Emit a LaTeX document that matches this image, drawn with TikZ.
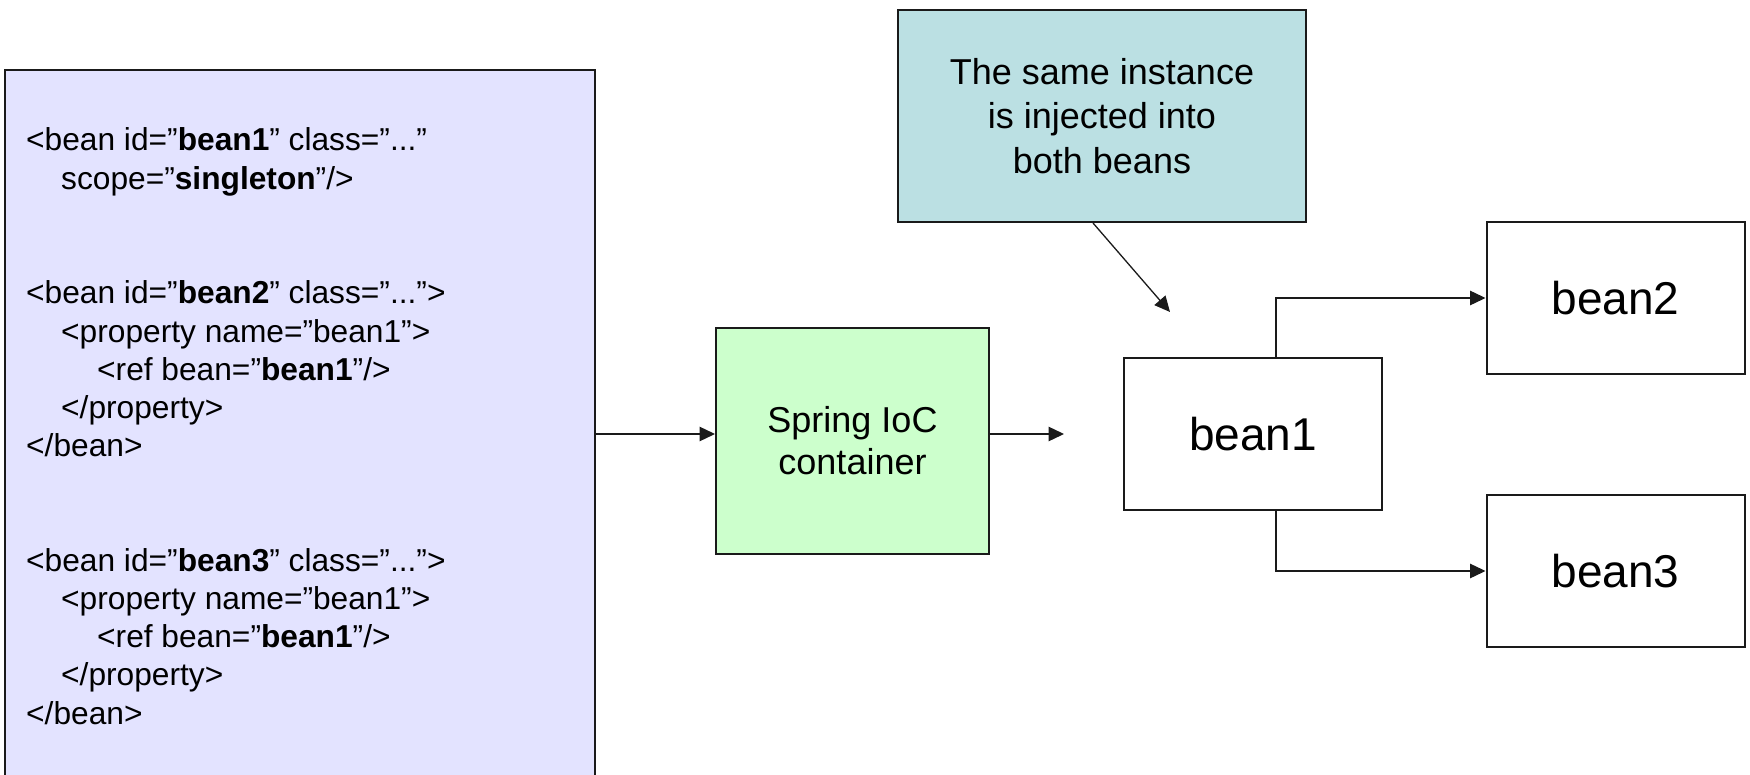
\documentclass[tikz,border=0pt]{standalone}
\usepackage{fontspec}
\setmainfont{Liberation Sans}
\usepackage{xcolor}
\usepackage{tikz}
\usetikzlibrary{arrows.meta}
\definecolor{xmlfill}{HTML}{E3E3FF}
\definecolor{iocfill}{HTML}{CCFFCC}
\definecolor{notefill}{HTML}{BBE0E3}
\definecolor{edge}{HTML}{1A1A1A}
\tikzset{
  box/.style={draw=edge, line width=2pt, inner sep=0pt, align=center},
  xmlbox/.style={box, fill=xmlfill, minimum width=590pt, minimum height=730pt},
  iocbox/.style={box, fill=iocfill, minimum width=273pt, minimum height=226pt,
    font=\fontsize{36}{42}\selectfont},
  notebox/.style={box, fill=notefill, minimum width=408pt, minimum height=212pt,
    font=\fontsize{36}{44.5}\selectfont},
  beanbox/.style={box, fill=white, minimum width=258pt, minimum height=152pt,
    font=\fontsize{46}{52}\selectfont},
  code/.style={anchor=base west, inner sep=0pt, font=\fontsize{31.7}{38.2}\selectfont},
  flow/.style={-{Triangle[length=15.5pt,width=14.5pt]}, line width=1.3pt, draw=edge}
}

\begin{document}
\begin{tikzpicture}[x=1pt, y=-1pt]
  \useasboundingbox (0,0) rectangle (1750,775);

  % xml configuration
  \node[xmlbox] (xml) at (300,435) {};
  \node[code] (c1)  at (26,151.0) {<bean id=”\textbf{bean1}” class=”...”};
  \node[code] (c2)  at (61,189.2) {scope=”\textbf{singleton}”/>};
  \node[code] (c3)  at (26,303.8) {<bean id=”\textbf{bean2}” class=”...”>};
  \node[code] (c4)  at (61,342.0) {<property name=”bean1”>};
  \node[code] (c5)  at (97,380.2) {<ref bean=”\textbf{bean1}”/>};
  \node[code] (c6)  at (61,418.4) {</property>};
  \node[code] (c7)  at (26,456.6) {</bean>};
  \node[code] (c8)  at (26,571.2) {<bean id=”\textbf{bean3}” class=”...”>};
  \node[code] (c9)  at (61,609.4) {<property name=”bean1”>};
  \node[code] (c10) at (97,647.6) {<ref bean=”\textbf{bean1}”/>};
  \node[code] (c11) at (61,685.8) {</property>};
  \node[code] (c12) at (26,724.0) {</bean>};

  % container and beans
  \node[iocbox] (ioc) at (852.5,441) {Spring IoC\\container};
  \node[notebox] (note) at (1102,116) {The same instance\\is injected into\\both beans};
  \node[beanbox] (bean1) at (1253,434) {bean1};
  \node[beanbox] (bean2) at (1615.5,298) {bean2};
  \node[beanbox] (bean3) at (1615.5,571) {bean3};

  % free arrow ends
  \coordinate (out) at (1064,434);
  \coordinate (hint) at (1170,312);

  % arrows
  \draw[flow] (xml.east |- bean1) -- (ioc.west |- bean1);
  \draw[flow] (ioc.east |- bean1) -- (out);
  \draw[flow] ([xshift=-9pt]note.south) -- (hint);
  \draw[flow] ([xshift=23pt]bean1.north) |- (bean2.west);
  \draw[flow] ([xshift=23pt]bean1.south) |- (bean3.west);
\end{tikzpicture}
\end{document}
